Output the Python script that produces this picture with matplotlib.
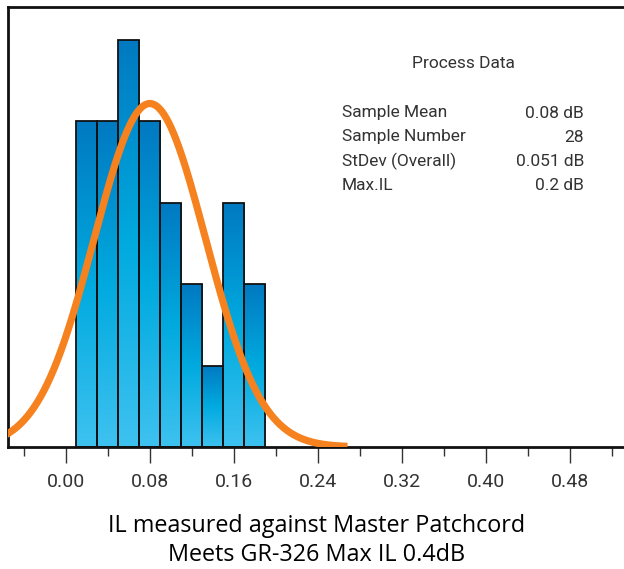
import numpy as np
import matplotlib
matplotlib.use("Agg")
import matplotlib.pyplot as plt
from matplotlib.colors import LinearSegmentedColormap
from matplotlib.patches import Rectangle
from matplotlib.ticker import FixedLocator

# ---- data ----
bin_edges = [0.01, 0.03, 0.05, 0.07, 0.09, 0.11, 0.13, 0.15, 0.17, 0.19]
counts = [4, 4, 5, 4, 3, 2, 1, 3, 2]
fit_mean = 0.08
fit_sd = 0.053
n_samples = 28
major_ticks = [0.00, 0.08, 0.16, 0.24, 0.32, 0.40, 0.48]
minor_ticks = [-0.04, 0.04, 0.12, 0.20, 0.28, 0.36, 0.44, 0.52]
stats_labels = ["Sample Mean", "Sample Number", "StDev (Overall)", "Max.IL"]
stats_values = ["0.08 dB", "28", "0.051 dB", "0.2 dB"]
title_lines = ["IL measured against Master Patchcord", "Meets GR-326 Max IL 0.4dB"]

narrow = ['Roboto', 'DejaVu Sans']
nw = 'normal'
txt_color = '#333333'

fig = plt.figure(figsize=(6.24, 5.69), dpi=100)
ax = fig.add_axes([8/624, 1 - 447/569, 1 - 8/624, 440/569])
ax.set_xlim(-0.0549, 0.531)
ax.set_ylim(0, 5.4)

cmap = LinearSegmentedColormap.from_list('bar', ['#3ec2f0', '#00aadf', '#0079c1'])
grad = np.linspace(0, 1, 256).reshape(-1, 1)
for i, c in enumerate(counts):
    x0, x1 = bin_edges[i], bin_edges[i + 1]
    rect = Rectangle((x0, 0), x1 - x0, c, facecolor='none', edgecolor='#111111',
                     linewidth=1.3, zorder=3)
    ax.add_patch(rect)
    im = ax.imshow(grad, extent=[x0, x1, 0, c], origin='lower', cmap=cmap,
                   aspect='auto', zorder=2)
    im.set_clip_path(rect)

xs = np.linspace(-0.06, 0.268, 400)
binw = bin_edges[1] - bin_edges[0]
pdf = n_samples * binw / (fit_sd * np.sqrt(2 * np.pi)) * np.exp(-0.5 * ((xs - fit_mean) / fit_sd) ** 2)
ax.plot(xs, pdf, color='#f5821f', linewidth=5.2, solid_capstyle='butt', zorder=4)
ax.set_xlim(-0.0549, 0.531)
ax.set_ylim(0, 5.4)
ax.set_aspect('auto')

for s in ['left', 'top', 'bottom']:
    ax.spines[s].set_linewidth(2.0)
    ax.spines[s].set_color('#111111')
ax.spines['right'].set_visible(False)

ax.yaxis.set_visible(False)
ax.xaxis.set_major_locator(FixedLocator(major_ticks))
ax.xaxis.set_minor_locator(FixedLocator(minor_ticks))
ax.set_xticklabels([f"{t:.2f}" for t in major_ticks])
ax.tick_params(axis='x', which='major', length=11.5, width=1.0, color='#333333',
               labelsize=14, labelcolor=txt_color, pad=7)
ax.tick_params(axis='x', which='minor', length=6.5, width=1.0, color='#333333')
for lab in ax.get_xticklabels():
    lab.set_fontfamily(narrow)
    lab.set_fontweight(nw)

# Process data box
fig.text(463/624, 1 - 64/569, "Process Data",
         ha='center', va='center', fontsize=12.5, color=txt_color, family=narrow, weight=nw)
rows_y = [113, 137, 161, 186]
for y, l, v in zip(rows_y, stats_labels, stats_values):
    fig.text(342/624, 1 - y/569, l, ha='left', va='center', fontsize=12.5,
             color=txt_color, family=narrow, weight=nw)
    fig.text(584/624, 1 - y/569, v, ha='right', va='center', fontsize=12.5,
             color=txt_color, family=narrow, weight=nw)

fig.text(317/624, 1 - 526/569, title_lines[0], ha='center', va='center',
         fontsize=16.8, color='black', family=['Open Sans', 'DejaVu Sans'])
fig.text(317/624, 1 - 555/569, title_lines[1], ha='center', va='center',
         fontsize=16.8, color='black', family=['Open Sans', 'DejaVu Sans'])

fig.savefig('out.png', dpi=100)
